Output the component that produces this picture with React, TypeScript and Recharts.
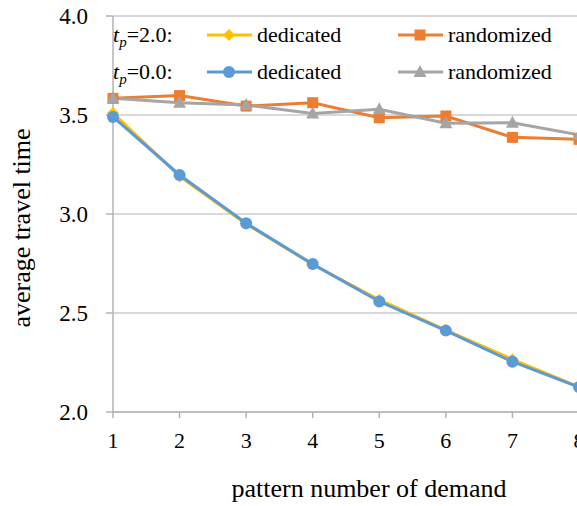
import React from "react";
import { LineChart, Line, CartesianGrid, XAxis, YAxis } from "recharts";

const patterns = [1, 2, 3, 4, 5, 6, 7, 8];
const dedicated20 = [3.51, 3.19, 2.95, 2.745, 2.567, 2.414, 2.266, 2.126];
const randomized20 = [3.584, 3.598, 3.545, 3.562, 3.486, 3.495, 3.387, 3.377];
const dedicated00 = [3.49, 3.197, 2.953, 2.747, 2.558, 2.411, 2.254, 2.126];
const randomized00 = [3.584, 3.562, 3.55, 3.508, 3.529, 3.458, 3.461, 3.4];
const yTicks = [2.0, 2.5, 3.0, 3.5, 4.0];

const data = patterns.map((p, i) => ({
  pattern: p,
  ded20: dedicated20[i],
  rand20: randomized20[i],
  ded00: dedicated00[i],
  rand00: randomized00[i],
}));

const FONT = "Liberation Serif";
const YELLOW = "#FFC000";
const ORANGE = "#ED7D31";
const BLUE = "#5B9BD5";
const GRAY = "#A5A5A5";
const AXIS = "#b3b3b3";

const diamond = (cx: number, cy: number, k?: any) => (
  <path key={k} d={`M${cx},${cy - 6}L${cx + 6},${cy}L${cx},${cy + 6}L${cx - 6},${cy}Z`} fill={YELLOW} />
);
const square = (cx: number, cy: number, k?: any) => (
  <rect key={k} x={cx - 5.5} y={cy - 5.5} width={11} height={11} fill={ORANGE} />
);
const circle = (cx: number, cy: number, k?: any) => (
  <circle key={k} cx={cx} cy={cy} r={6} fill={BLUE} />
);
const triangle = (cx: number, cy: number, k?: any) => (
  <path key={k} d={`M${cx},${cy - 7}L${cx + 6.5},${cy + 5}L${cx - 6.5},${cy + 5}Z`} fill={GRAY} />
);

const dotFn = (shape: (x: number, y: number, k?: any) => React.ReactElement) => (props: any) =>
  shape(props.cx, props.cy, `d-${props.index}`);

// ticks drawn by hand so the serif font and size are sure to stick
const XTick = ({ x, y, payload }: any) => (
  <text x={x} y={y} dy="0.71em" textAnchor="middle" fontFamily={FONT} fontSize={22} fill="#000">
    {payload.value}
  </text>
);
const YTick = ({ x, y, payload }: any) => (
  <text x={x} y={y} dy="0.355em" textAnchor="end" fontFamily={FONT} fontSize={23} fill="#000">
    {Number(payload.value).toFixed(1)}
  </text>
);

const LegendRow = ({ y, label, c1, c2, m1, m2 }: any) => (
  <g>
    <text x={113} y={y + 7} fontFamily={FONT} fontSize={22} fill="#000">
      <tspan fontStyle="italic">t</tspan>
      <tspan fontStyle="italic" fontSize={15} dy={5}>p</tspan>
      <tspan dy={-5}>{label}</tspan>
    </text>
    <line x1={207} x2={252} y1={y} y2={y} stroke={c1} strokeWidth={3} />
    {m1(229, y)}
    <text x={257} y={y + 7} fontFamily={FONT} fontSize={22} fill="#000">dedicated</text>
    <line x1={398} x2={443} y1={y} y2={y} stroke={c2} strokeWidth={3} />
    {m2(420, y)}
    <text x={448} y={y + 7} fontFamily={FONT} fontSize={22} fill="#000">randomized</text>
  </g>
);

export default function App() {
  return (
    <div style={{ position: "absolute", top: 0, left: 0, width: 577, height: 506, overflow: "hidden", background: "#fff" }}>
      <LineChart width={620} height={506} data={data} margin={{ top: 16, right: 41, left: 0, bottom: 0 }}>
        <CartesianGrid vertical={false} stroke={AXIS} strokeWidth={1} />
        <XAxis
          dataKey="pattern"
          type="number"
          domain={[1, 8]}
          ticks={patterns}
          height={94}
          stroke={AXIS}
          axisLine={{ stroke: AXIS, strokeWidth: 1.5 }}
          tickLine={{ stroke: AXIS, strokeWidth: 1.5 }}
          tickSize={6}
          tickMargin={14}
          tick={<XTick />}
          label={{
            content: () => (
              <text x={369} y={497} textAnchor="middle" fontFamily={FONT} fontSize={26} fill="#000">
                pattern number of demand
              </text>
            ),
          }}
        />
        <YAxis
          domain={[2, 4]}
          ticks={yTicks}
          width={113}
          stroke={AXIS}
          axisLine={{ stroke: AXIS, strokeWidth: 1.5 }}
          tickLine={{ stroke: AXIS, strokeWidth: 1.5 }}
          tickSize={7}
          tickMargin={18}
          tick={<YTick />}
          label={{
            content: () => (
              <text
                x={30}
                y={228}
                textAnchor="middle"
                transform="rotate(-90, 30, 228)"
                fontFamily={FONT}
                fontSize={26}
                fill="#000"
              >
                average travel time
              </text>
            ),
          }}
        />
        <Line dataKey="ded20" stroke={YELLOW} strokeWidth={3} dot={dotFn(diamond)} isAnimationActive={false} />
        <Line dataKey="rand20" stroke={ORANGE} strokeWidth={3} dot={dotFn(square)} isAnimationActive={false} />
        <Line dataKey="ded00" stroke={BLUE} strokeWidth={3} dot={dotFn(circle)} isAnimationActive={false} />
        <Line dataKey="rand00" stroke={GRAY} strokeWidth={3} dot={dotFn(triangle)} isAnimationActive={false} />
      </LineChart>
      <svg width={577} height={506} style={{ position: "absolute", top: 0, left: 0, pointerEvents: "none" }}>
        <LegendRow y={35} label="=2.0:" c1={YELLOW} c2={ORANGE} m1={diamond} m2={square} />
        <LegendRow y={72} label="=0.0:" c1={BLUE} c2={GRAY} m1={circle} m2={triangle} />
      </svg>
    </div>
  );
}
